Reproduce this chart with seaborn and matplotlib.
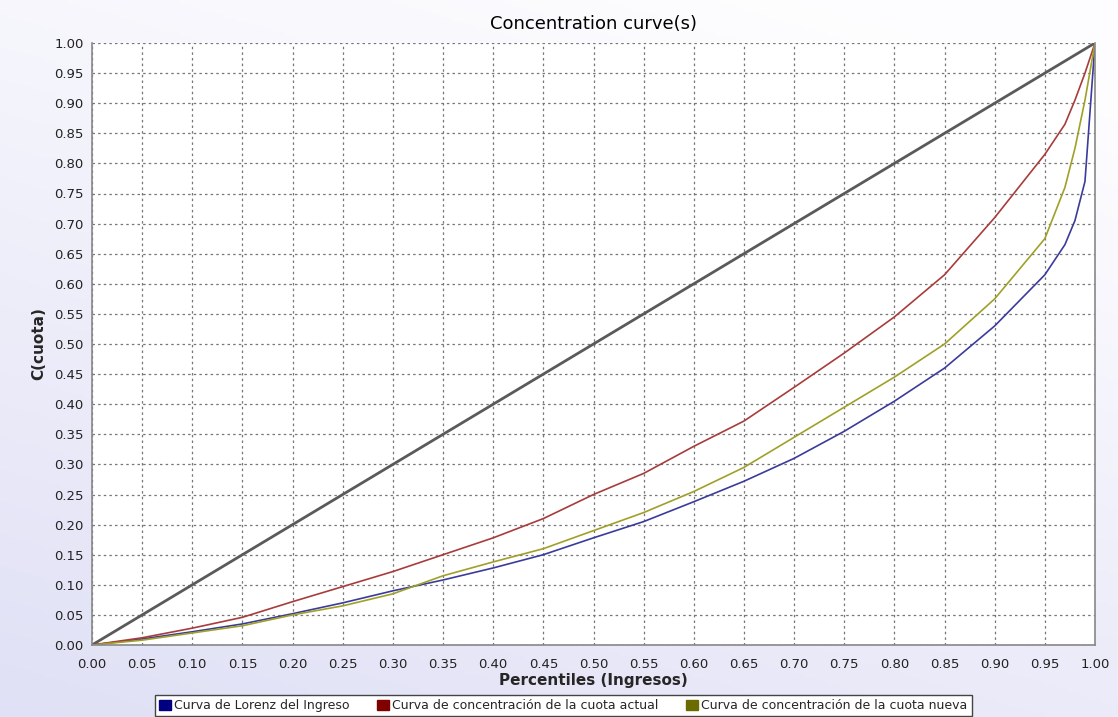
import numpy as np
import pandas as pd
import matplotlib
matplotlib.use("Agg")
import matplotlib.pyplot as plt
from matplotlib.patches import Patch
import seaborn as sns

# percentiles (eje x) y curvas
percentiles = [0.0, 0.05, 0.10, 0.15, 0.20, 0.25, 0.30, 0.35, 0.40, 0.45, 0.50,
               0.55, 0.60, 0.65, 0.70, 0.75, 0.80, 0.85, 0.90, 0.95, 0.97,
               0.98, 0.99, 1.0]
lorenz_ingreso = [0.0, 0.010, 0.022, 0.035, 0.052, 0.070, 0.090, 0.108, 0.128,
                  0.150, 0.178, 0.205, 0.238, 0.272, 0.310, 0.355, 0.405, 0.460,
                  0.530, 0.615, 0.665, 0.705, 0.770, 1.0]
cuota_actual = [0.0, 0.012, 0.028, 0.046, 0.072, 0.097, 0.122, 0.150, 0.178,
                0.210, 0.250, 0.285, 0.330, 0.372, 0.428, 0.485, 0.545, 0.615,
                0.710, 0.815, 0.865, 0.905, 0.950, 1.0]
cuota_nueva = [0.0, 0.008, 0.020, 0.032, 0.050, 0.065, 0.085, 0.115, 0.138,
               0.160, 0.190, 0.220, 0.255, 0.295, 0.345, 0.395, 0.445, 0.500,
               0.575, 0.675, 0.760, 0.825, 0.905, 1.0]
igualdad = [0.0, 1.0]

etiquetas = ["Curva de Lorenz del Ingreso",
             "Curva de concentración de la cuota actual",
             "Curva de concentración de la cuota nueva"]
colores_linea = ["#3b3b9c", "#a83c3c", "#a0a028"]
colores_leyenda = ["#000080", "#800000", "#6b6b00"]

sns.set_style("white")
plt.rcParams['font.family'] = ['DejaVu Sans']

fig = plt.figure(figsize=(11.18, 7.17), dpi=100)

# fondo degradado
bg = fig.add_axes([0, 0, 1, 1], zorder=-10)
gx, gy = np.meshgrid(np.linspace(0, 1, 200), np.linspace(0, 1, 200))
t = np.clip(0.75 * gy + 0.35 * gx, 0, 1)
c0 = np.array([0.88, 0.88, 0.965])
c1 = np.array([0.995, 0.995, 1.0])
img = c0[None, None, :] * (1 - t[..., None]) + c1[None, None, :] * t[..., None]
bg.imshow(img, origin="lower", aspect="auto", extent=[0, 1, 0, 1])
bg.axis("off")

ax = fig.add_axes([92 / 1118, 1 - 645 / 717, (1095 - 92) / 1118, (645 - 43) / 717])
ax.set_facecolor("white")

df = pd.DataFrame({"x": percentiles, "lorenz": lorenz_ingreso,
                   "actual": cuota_actual, "nueva": cuota_nueva})

sns.lineplot(x=igualdad, y=igualdad, ax=ax, color="#5a5a5a", lw=2)
sns.lineplot(data=df, x="x", y="lorenz", ax=ax, color=colores_linea[0], lw=1.2)
sns.lineplot(data=df, x="x", y="actual", ax=ax, color=colores_linea[1], lw=1.2)
sns.lineplot(data=df, x="x", y="nueva", ax=ax, color=colores_linea[2], lw=1.2)

ticks = np.round(np.arange(0, 1.0001, 0.05), 2)
ax.set_xlim(0, 1)
ax.set_ylim(0, 1)
ax.set_xticks(ticks)
ax.set_yticks(ticks)
ax.set_xticklabels([f"{v:.2f}" for v in ticks])
ax.set_yticklabels([f"{v:.2f}" for v in ticks])
ax.tick_params(axis="both", direction="out", length=4, width=1, color="#555555",
               labelsize=9.5, labelcolor="#222222", pad=2)
ax.tick_params(axis="x", pad=5)
ax.grid(True, linestyle=(0, (2, 2.5)), color="#777777", lw=0.9)
ax.set_axisbelow(True)
for s in ["left", "bottom", "right"]:
    ax.spines[s].set_color("#888888")
    ax.spines[s].set_linewidth(1.2)
ax.spines["top"].set_visible(False)

ax.set_title("Concentration curve(s)", fontsize=13, pad=10, color="black")
ax.set_xlabel("Percentiles (Ingresos)", fontsize=11, fontweight="bold", labelpad=2)
ax.set_ylabel("C(cuota)", fontsize=11, fontweight="bold", labelpad=6)

handles = [Patch(facecolor=c, edgecolor=c) for c in colores_leyenda]
leg = fig.legend(handles, etiquetas, loc="center", bbox_to_anchor=(0.504, 0.016),
                 ncol=3, fontsize=9, frameon=True, fancybox=False,
                 handlelength=0.9, handleheight=0.9, handletextpad=0.3,
                 columnspacing=2.2, borderpad=0.35)
leg.get_frame().set_edgecolor("#444444")
leg.get_frame().set_facecolor("white")
leg.get_frame().set_alpha(1)

fig.savefig("out.png", dpi=100)
